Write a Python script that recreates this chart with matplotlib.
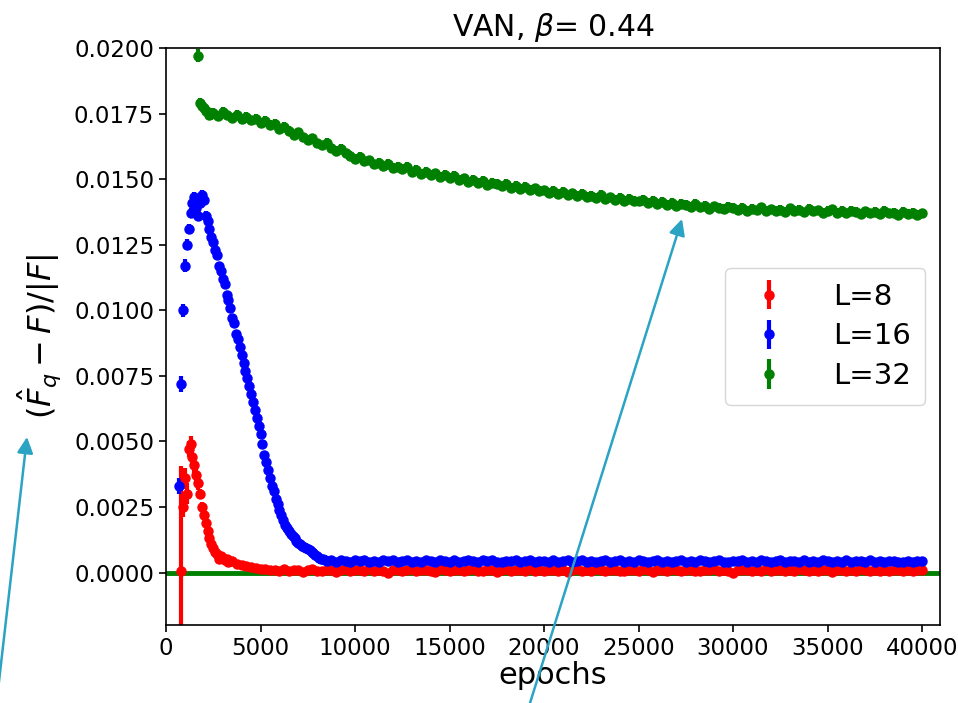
import numpy as np
import matplotlib
matplotlib.use("Agg")
import matplotlib.pyplot as plt
from matplotlib.ticker import FormatStrFormatter

# all values in units of 1e-4

# L=8
red_epochs_a = np.arange(800, 3401, 100)
red_a = [0.5, 25, 36, 30, 47, 49, 44, 41, 37, 34, 30, 25, 22, 19, 16, 13, 11,
         9.5, 8, 7, 5, 6.2, 5.4, 4.6, 5.0, 4.2, 4.5]
red_epochs_b = np.arange(3500, 40001, 250)
red_b = [
    4.3, 3.4, 3.0, 2.6, 2.0, 1.8, 1.4, 1.3, 1.0,
    0.9, 0.6, 1.2, 0.4, 0.8, 1.0, 0.3, 0.9, 1.3, 0.7,
    0.5, 1.1, 0.8, 0.2, 0.9, 1.4, 0.6, 0.8, 1.0, 0.4,
    1.2, 0.7, 0.9, 0.5, -0.3, 0.8, 1.1, 0.6, 0.9, 1.3,
    0.5, 0.8, 1.0, 0.7, 0.3, 1.2, 0.9, 0.6, 0.8, 1.1,
    0.4, 0.9, 1.5, 0.7, 0.6, 1.0, 0.8, 0.2, 0.9, 1.2,
    0.6, 0.8, 1.0, 0.5, 1.3, 0.7, 0.9, 0.4, 1.1, 0.8,
    0.6, 1.0, 0.3, 0.9, 1.2, 0.7, 0.8, 0.5, 1.4, 0.9,
    0.6, 0.8, 1.1, 0.4, 0.7, 1.0, 0.9, 0.5, 1.2, 0.8,
    0.3, 0.9, 1.0, 0.6, 1.3, 0.8, 0.5, 0.9, 1.1, 0.7,
    0.4, 1.0, 0.8, 1.2, 0.6, 0.9, 0.7, -0.2, 1.0, 0.8,
    1.1, 0.5, 0.9, 0.7, 1.3, 0.6, 0.8, 1.0, 0.4, 0.9,
    0.7, 1.2, 0.8, 0.5, 1.0, 0.6, 0.9, 1.1, 0.3, 0.8,
    1.0, 0.7, 0.9, 0.5, 1.2, 0.8, 0.6, 1.0, 0.4, 0.9,
    0.7, 1.1, 0.8, 0.5, 0.9, 0.6, 1.0, 0.8]
red_err_first = [40, 4, 4, 4, 3, 3, 3, 3, 2.5, 2.5, 2, 2, 2, 1.5, 1.5, 1.5, 1.2]
red_err = 0.9

# L=16
blue_epochs_a = np.arange(700, 8401, 100)
blue_a = [33, 72, 100, 117, 125, 131, 137, 141, 143, 139, 136, 141, 144, 142,
          136, 134, 131, 128,
          126, 123, 121, 117, 115, 112, 110, 106, 104, 101,
          97, 95, 91, 89, 86, 83, 80, 77, 74, 71,
          68, 65, 62, 59, 56, 53, 49, 45, 42, 39,
          36, 33, 31, 28, 26, 24, 22, 20, 18, 17,
          16, 14.5, 13.8, 13, 12, 11.4, 11, 10.3, 9.8, 9.3,
          8.9, 8.6, 7.9, 7.4, 6.8, 6.3, 5.7, 5.3, 5.0, 4.7]
blue_epochs_b = np.arange(8500, 40001, 250)
blue_b = [
    4.5,
    4.6, 4.2, 4.8, 4.4, 4.1, 4.7, 4.3, 4.9, 4.2, 4.5,
    4.0, 4.6, 4.3, 4.8, 4.1, 4.4, 4.7, 4.2, 4.5, 3.9,
    4.6, 4.3, 4.1, 4.8, 4.4, 4.2, 4.6, 4.0, 4.5, 4.7,
    4.3, 4.1, 4.6, 4.4, 4.9, 4.2, 4.0, 4.5, 4.3, 4.7,
    4.1, 4.4, 4.6, 3.9, 4.3, 4.5, 4.2, 4.8, 4.0, 4.4,
    4.6, 4.2, 4.3, 4.7, 4.1, 4.5, 4.0, 4.4, 4.8, 4.2,
    4.3, 4.6, 4.1, 4.5, 4.2, 4.9, 4.3, 4.0, 4.4, 4.6,
    4.2, 4.5, 4.1, 4.3, 4.7, 4.0, 4.4, 4.2, 4.6, 4.3,
    4.1, 4.5, 4.8, 4.2, 4.0, 4.4, 4.3, 4.6, 4.1, 4.5,
    4.2, 4.7, 4.3, 4.0, 4.4, 4.6, 4.1, 4.3, 4.5, 4.2,
    4.8, 4.0, 4.4, 4.2, 4.6, 4.3, 4.1, 4.5, 4.2, 4.7,
    4.0, 4.3, 4.4, 4.1, 4.6, 4.2, 4.5, 3.9, 4.3, 4.4,
    4.1, 4.2, 4.5, 4.0, 4.3, 4.4]
blue_err_first = [3, 3, 2.5, 2.5, 2, 2, 2, 2, 2, 2, 2, 2, 2, 2, 2, 2, 2, 2]
blue_err = 1.3

# L=32
green_epochs_a = np.arange(1700, 2401, 100)
green_a = [197, 179, 178, 177, 176, 175.5, 174.5, 175]
green_epochs_b = np.arange(2500, 40001, 250)
green_b = [
    175.2, 174.0, 175.6, 174.3, 173.5, 174.6, 172.9, 173.8, 172.4, 173.1,
    171.4, 172.3, 170.6, 171.0, 169.2, 169.9, 168.3, 167.0, 167.8, 165.9,
    164.8, 165.5, 163.6, 162.9, 163.8, 161.7, 160.9, 161.6, 159.8, 158.9,
    157.6, 158.5, 156.8, 157.2, 155.6, 156.3, 154.9, 155.7, 154.2, 154.8,
    153.9, 154.6, 152.8, 153.5, 152.1, 152.9, 151.4, 152.2, 150.8, 151.5,
    150.6, 151.2, 149.6, 150.3, 149.1, 149.8, 148.5, 149.4, 147.9, 148.7,
    148.1, 147.3, 148.2, 146.8, 147.4, 146.2, 147.0, 145.9, 146.5, 145.4,
    145.7, 144.9, 145.6, 144.4, 145.1, 143.8, 144.6, 143.5, 144.3, 143.2,
    143.6, 142.8, 143.9, 142.5, 143.1, 142.1, 142.9, 141.7, 142.4, 141.6,
    141.5, 142.2, 140.9, 141.6, 140.6, 141.3, 140.2, 141.0, 139.9, 140.7,
    140.1, 139.4, 140.5, 139.2, 139.9, 138.8, 139.6, 139.0, 138.6, 139.4,
    139.0, 138.3, 139.1, 137.9, 138.7, 138.1, 139.2, 137.8, 138.5, 138.0,
    138.4, 137.6, 138.9, 137.9, 138.2, 137.3, 138.6, 137.7, 138.1, 137.2,
    137.9, 138.5, 137.1, 137.8, 136.9, 138.0, 137.4, 136.8, 137.7, 137.0,
    137.4, 136.6, 137.9, 136.9, 137.2, 136.4, 137.5, 136.8, 137.1, 136.5,
    137.0]
green_err_first = [2.5, 1.8]
green_err = 1.8

series = [
    ("L=8", "red", red_epochs_a, red_a, red_epochs_b, red_b, red_err_first, red_err),
    ("L=16", "blue", blue_epochs_a, blue_a, blue_epochs_b, blue_b, blue_err_first, blue_err),
    ("L=32", "green", green_epochs_a, green_a, green_epochs_b, green_b, green_err_first, green_err),
]

fig = plt.figure(figsize=(9.58, 7.03), dpi=100)
ax = fig.add_axes([0.1733, 0.111, 0.8079, 0.8207])

ax.axhline(0, color="green", lw=3.5, zorder=1)

for label, c, ea, va, eb, vb, err_first, err in series:
    assert len(ea) == len(va) and len(eb) == len(vb)
    x = np.concatenate([ea, eb])
    y = np.concatenate([va, vb]) * 1e-4
    yerr = np.full(len(x), err)
    yerr[:len(err_first)] = err_first
    ax.errorbar(x, y, yerr=yerr * 1e-4, fmt="o", color=c, ms=6.5,
                elinewidth=3, capsize=0, label=label, zorder=2)

ax.set_xlim(0, 40950)
ax.set_ylim(-0.002, 0.02)
ax.set_xticks(np.arange(0, 40001, 5000))
ax.set_yticks(np.arange(0, 0.02001, 0.0025))
ax.yaxis.set_major_formatter(FormatStrFormatter("%.4f"))
ax.tick_params(labelsize=16.5, length=5, width=1.2)
for s in ax.spines.values():
    s.set_linewidth(1.2)

ax.set_title(r"VAN, $\beta$= 0.44", fontsize=21.5, pad=9)
ax.set_xlabel("epochs", fontsize=22, labelpad=1)
ax.set_ylabel(r"$(\hat{F}_q - F)/|F|$", fontsize=23, labelpad=8)

ax.legend(loc="center right", fontsize=21, handletextpad=1.2, borderpad=0.5,
          labelspacing=0.4)

arrow_c = "#2ba3c2"
for tail, tip in [((-2, 13), (27, 266)), ((530, 0), (682, 484))]:
    ax.annotate("", xy=tip, xycoords="figure pixels", xytext=tail,
                textcoords="figure pixels", annotation_clip=False,
                arrowprops=dict(arrowstyle="-|>", color=arrow_c, lw=1.8,
                                mutation_scale=24, shrinkA=0, shrinkB=0))

fig.savefig("out.png", dpi=100)
